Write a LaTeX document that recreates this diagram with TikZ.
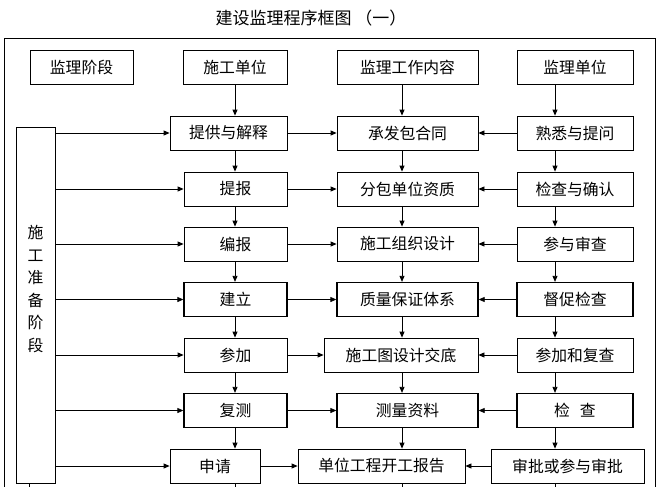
\documentclass[tikz,border=0pt]{standalone}
\usepackage{fontspec}
\setmainfont{Noto Sans CJK SC}
\usetikzlibrary{arrows.meta}

\tikzset{
  box/.style={draw, line width=0.8pt, minimum height=34pt, inner sep=0pt,
              font=\fontsize{15.8}{15.8}\selectfont},
  boxb/.style={box, line width=1.3pt},
  arr/.style={-{Triangle[length=6pt,width=5pt]}, line width=0.8pt},
}

\begin{document}
\begin{tikzpicture}[x=1pt,y=-1pt]
    \useasboundingbox (0,0) rectangle (661,487);

    % Title and outer frame (open at the bottom)
    \node[font=\fontsize{17}{17}\selectfont] (title) at (311,18) {建设监理程序框图\hspace{4pt}（一）};
    \draw[line width=0.8pt] (4,487) -- (4,38) -- (655,38) -- (655,487);

    % Column lines for the vertical arrows
    \coordinate (colA) at (235,0);
    \coordinate (colB) at (402,0);
    \coordinate (colC) at (555,0);

    % Header row
    \node[box, minimum width=103pt] (hStage) at (81.5,67) {监理阶段};
    \node[box, minimum width=104pt] (hCon)   at (235,67)  {施工单位};
    \node[box, minimum width=141pt] (hWork)  at (407.5,67) {监理工作内容};
    \node[box, minimum width=116pt] (hSup)   at (575,67)  {监理单位};

    % Stage box on the left
    \node[box, minimum width=39pt, minimum height=356pt] (stageBox) at (35.5,305) {};
    \node[font=\fontsize{15.8}{22.5}\selectfont, align=center] (stageTxt) at (35.5,289)
        {施\\工\\准\\备\\阶\\段};

    % Contractor column
    \node[box,  minimum width=117pt] (cA1) at (228.5,133)   {提供与解释};
    \node[box,  minimum width=103pt] (cA2) at (235.5,189)   {提报};
    \node[box,  minimum width=103pt] (cA3) at (235.5,244)   {编报};
    \node[boxb, minimum width=103pt] (cA4) at (235.5,299.5) {建立};
    \node[box,  minimum width=103pt] (cA5) at (235.5,355)   {参加};
    \node[boxb, minimum width=103pt] (cA6) at (235.5,410.5) {复测};
    \node[box,  minimum width=90pt]  (cA7) at (215,466)     {申请};

    % Work content column
    \node[box,  minimum width=141pt] (cB1) at (407.5,133)   {承发包合同};
    \node[box,  minimum width=141pt] (cB2) at (407.5,189)   {分包单位资质};
    \node[box,  minimum width=141pt] (cB3) at (407.5,244)   {施工组织设计};
    \node[boxb, minimum width=141pt] (cB4) at (407.5,299.5) {质量保证体系};
    \node[box,  minimum width=154pt] (cB5) at (401,355)     {施工图设计交底};
    \node[boxb, minimum width=141pt] (cB6) at (407.5,410.5) {测量资料};
    \node[box,  minimum width=167pt] (cB7) at (381.5,466)   {单位工程开工报告};

    % Supervisor column
    \node[box,  minimum width=116pt] (cC1) at (575,133)   {熟悉与提问};
    \node[box,  minimum width=116pt] (cC2) at (575,189)   {检查与确认};
    \node[box,  minimum width=116pt] (cC3) at (575,244)   {参与审查};
    \node[boxb, minimum width=116pt] (cC4) at (575,299.5) {督促检查};
    \node[box,  minimum width=116pt] (cC5) at (575,355)   {参加和复查};
    \node[boxb, minimum width=116pt] (cC6) at (575,410.5) {检\hspace{10pt}查};
    \node[box,  minimum width=153pt] (cC7) at (567.5,466) {审批或参与审批};

    % Arrows from the header row
    \draw[arr] (hCon.south -| colA)  -- (cA1.north -| colA);
    \draw[arr] (hWork.south -| colB) -- (cB1.north -| colB);
    \draw[arr] (hSup.south -| colC)  -- (cC1.north -| colC);

    % Vertical arrows down each column
    \foreach \i/\j in {1/2,2/3,3/4,4/5,5/6,6/7} {
      \draw[arr] (cA\i.south -| colA) -- (cA\j.north -| colA);
      \draw[arr] (cB\i.south -| colB) -- (cB\j.north -| colB);
      \draw[arr] (cC\i.south -| colC) -- (cC\j.north -| colC);
    }

    % Horizontal arrows in each row
    \foreach \i in {1,...,7} {
      \draw[arr] (stageBox.east |- cA\i) -- (cA\i.west);
      \draw[arr] (cA\i.east) -- (cA\i.east -| cB\i.west);
      \draw[arr] (cC\i.west) -- (cC\i.west -| cB\i.east);
    }

    % Lines leaving at the bottom
    \draw[line width=0.8pt] (stageBox.south -| 29,0) -- ++(0,6);
    \draw[line width=0.8pt] (cA7.south -| colA) -- ++(0,6);
    \draw[line width=0.8pt] (cB7.south -| colB) -- ++(0,6);
    \draw[line width=0.8pt] (cC7.south -| colC) -- ++(0,6);
\end{tikzpicture}
\end{document}
